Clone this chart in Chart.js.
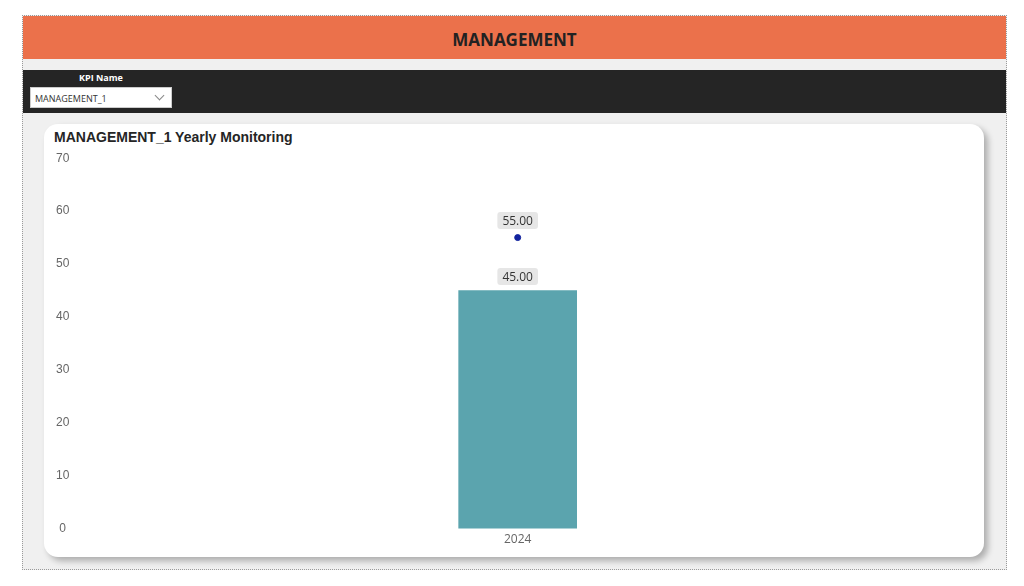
<!DOCTYPE html>
<html lang="en">
<head>
    <meta charset="UTF-8">
    <title>MANAGEMENT</title>
    <script src="https://cdn.jsdelivr.net/npm/chart.js"></script>
    <style>
        body { margin: 0; background: #fff; width: 1024px; height: 586px; overflow: hidden; font-family: "Open Sans", sans-serif; }
        .page { position: absolute; left: 22px; top: 15px; width: 983px; height: 553px; border: 1px dotted #9a9a9a; background: #f0f0f0; }
        .header { position: absolute; left: 0; top: 0; width: 100%; height: 43px; background: #eb714b; color: #222; font-weight: 700; font-size: 17px; text-align: center; line-height: 47px; }
        .filterbar { position: absolute; left: 0; top: 54px; width: 100%; height: 43px; background: #252525; }
        .filterbar .lbl { position: absolute; left: 50px; top: 1px; width: 56px; text-align: center; color: #fff; font-weight: 700; font-size: 9px; }
        .filterbar .dd { position: absolute; left: 7px; top: 17px; width: 142px; height: 21px; background: #fff; border: 1px solid #ccc; font-size: 9px; color: #333; line-height: 21px; padding-left: 4px; box-sizing: border-box; }
        .filterbar .dd i { position: absolute; right: 8px; top: 4px; width: 6px; height: 6px; border-right: 1px solid #888; border-bottom: 1px solid #888; transform: rotate(45deg); }
        .card { position: absolute; left: 21px; top: 108px; width: 940px; height: 433px; background: #fff; border-radius: 14px; box-shadow: 4px 4px 6px rgba(0,0,0,0.28); }
        .card h3 { position: absolute; left: 10px; top: 5px; margin: 0; font-family: "Liberation Sans", Arial, sans-serif; font-size: 14px; font-weight: 700; color: #252525; }
        .chart-box { position: absolute; left: 0; top: 17px; width: 940px; height: 405px; }
    </style>
</head>
<body>
    <div class="page">
        <div class="header">MANAGEMENT</div>
        <div class="filterbar">
            <div class="lbl">KPI Name</div>
            <div class="dd">MANAGEMENT_1<i></i></div>
        </div>
        <div class="card">
            <h3>MANAGEMENT_1 Yearly Monitoring</h3>
            <div class="chart-box"><canvas id="kpiChart"></canvas></div>
        </div>
    </div>

    <script>
        // values
        const years = ['2024'];
        const actualValues = [45];
        const targetValues = [55];
        const yTicks = [0, 10, 20, 30, 40, 50, 60, 70];

        // small grey boxes with the value above each mark
        const valueBoxes = {
            id: 'valueBoxes',
            afterDatasetsDraw(chart) {
                const ctx = chart.ctx;
                ctx.save();
                ctx.font = '12px "Open Sans", sans-serif';
                ctx.textAlign = 'center';
                ctx.textBaseline = 'middle';
                chart.data.datasets.forEach((ds, i) => {
                    chart.getDatasetMeta(i).data.forEach((el, j) => {
                        const txt = ds.data[j].toFixed(2);
                        const w = ctx.measureText(txt).width + 10;
                        const h = 17;
                        const cy = el.y - (ds.type === 'line' ? 17 : 14);
                        ctx.fillStyle = '#e6e6e6';
                        ctx.beginPath();
                        ctx.roundRect(el.x - w / 2, cy - h / 2, w, h, 3);
                        ctx.fill();
                        ctx.fillStyle = '#333';
                        ctx.fillText(txt, el.x, cy + 1);
                    });
                });
                ctx.restore();
            }
        };

        new Chart(document.getElementById('kpiChart'), {
            type: 'bar',
            data: {
                labels: years,
                datasets: [
                    {
                        type: 'line',
                        label: 'Target',
                        data: targetValues,
                        borderColor: '#12239e',
                        backgroundColor: '#12239e',
                        pointRadius: 3,
                        showLine: false
                    },
                    {
                        label: 'Actual',
                        data: actualValues,
                        backgroundColor: '#5ba4ae',
                        barThickness: 118
                    }
                ]
            },
            options: {
                responsive: true,
                maintainAspectRatio: false,
                animation: false,
                layout: { padding: { left: 2, right: 36, top: 0, bottom: 3 } },
                plugins: { legend: { display: false }, tooltip: { enabled: false } },
                scales: {
                    x: {
                        grid: { display: false },
                        border: { display: false },
                        ticks: { color: '#666', font: { size: 12, family: '"Open Sans", sans-serif' }, padding: -4 }
                    },
                    y: {
                        min: yTicks[0],
                        max: yTicks[yTicks.length - 1],
                        afterBuildTicks: axis => { axis.ticks = yTicks.map(v => ({ value: v })); },
                        grid: { display: false },
                        border: { display: false },
                        ticks: { color: '#666', font: { size: 12, family: '"Liberation Sans", Arial, sans-serif' }, padding: 10, crossAlign: 'center' }
                    }
                }
            },
            plugins: [valueBoxes]
        });
    </script>
</body>
</html>
